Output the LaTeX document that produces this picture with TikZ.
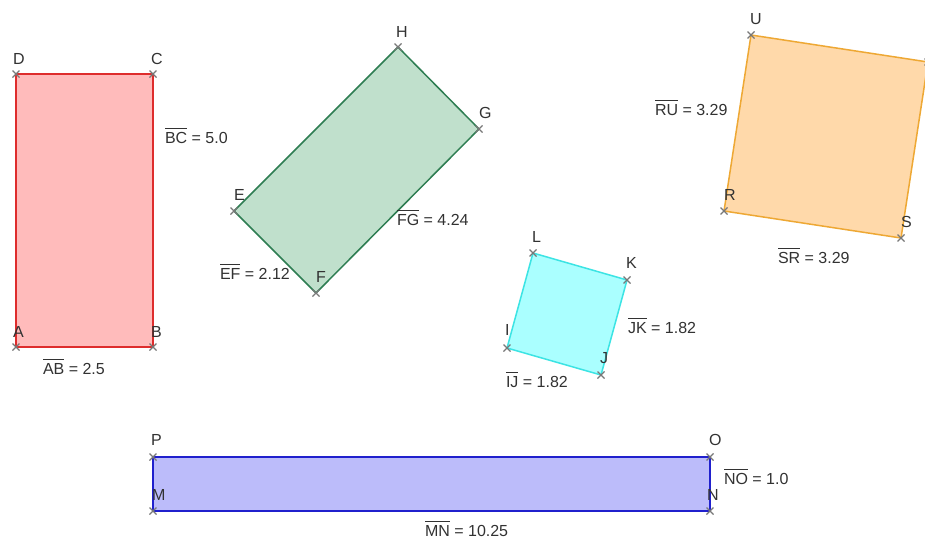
\documentclass[tikz,border=0pt]{standalone}
\usepackage{fontspec}
\setmainfont{Liberation Sans}
\usetikzlibrary{calc}
\definecolor{redfill}{RGB}{255,187,187}
\definecolor{redline}{RGB}{222,45,45}
\definecolor{greenfill}{RGB}{192,224,204}
\definecolor{greenline}{RGB}{46,125,82}
\definecolor{cyanfill}{RGB}{170,255,255}
\definecolor{cyanline}{RGB}{60,228,228}
\definecolor{orangefill}{RGB}{255,217,170}
\definecolor{orangeline}{RGB}{238,168,52}
\definecolor{bluefill}{RGB}{188,188,250}
\definecolor{blueline}{RGB}{32,32,205}
\definecolor{crossgray}{RGB}{120,120,120}
\definecolor{txt}{RGB}{50,50,50}
\newcommand\seglen[1]{\leavevmode\vbox{\hrule height 0.9pt\kern 3pt\hbox{#1}}}
\begin{document}
\begin{tikzpicture}[x=1pt,y=-1pt,
  lbl/.style={anchor=base west,inner sep=0pt,outer sep=0pt,text=txt,font=\fontsize{16}{19}\selectfont},
  poly/.style={line width=1.5pt,line join=round},
  vx/.style={crossgray,line width=1.3pt}]
\useasboundingbox[fill=white] (0,0) rectangle (925,539);
% vertices
\coordinate (A) at (16,347); \coordinate (B) at (153,347);
\coordinate (C) at (153,74); \coordinate (D) at (16,74);
\coordinate (E) at (234,211); \coordinate (F) at (316,293);
\coordinate (G) at (479,129); \coordinate (H) at (398,47);
\coordinate (I) at (507,348); \coordinate (J) at (601,375);
\coordinate (K) at (627,280); \coordinate (L) at (533,253);
\coordinate (R) at (724,211); \coordinate (S) at (901,238);
\coordinate (T) at (928,62); \coordinate (U) at (751,35);
\coordinate (M) at (153,511); \coordinate (N) at (710,511);
\coordinate (O) at (710,457); \coordinate (P) at (153,457);
% polygons
\draw[poly,fill=redfill,draw=redline] (A) -- (B) -- (C) -- (D) -- cycle;
\draw[poly,fill=greenfill,draw=greenline] (E) -- (F) -- (G) -- (H) -- cycle;
\draw[poly,fill=cyanfill,draw=cyanline] (I) -- (J) -- (K) -- (L) -- cycle;
\draw[poly,fill=orangefill,draw=orangeline] (R) -- (S) -- (T) -- (U) -- cycle;
\draw[poly,fill=bluefill,draw=blueline] (M) -- (N) -- (O) -- (P) -- cycle;
% vertex crosses
\foreach \p in {A,B,C,D,E,F,G,H,I,J,K,L,R,S,T,U,M,N,O,P}{
  \draw[vx] ($(\p)+(-3.5,-3.5)$) -- ($(\p)+(3.5,3.5)$);
  \draw[vx] ($(\p)+(-3.5,3.5)$) -- ($(\p)+(3.5,-3.5)$);
}
% point labels
\node[lbl] (lA) at (13,337) {A};
\node[lbl] (lB) at (151,337) {B};
\node[lbl] (lC) at (151,64) {C};
\node[lbl] (lD) at (13,64) {D};
\node[lbl] (lE) at (234,200) {E};
\node[lbl] (lF) at (316,282) {F};
\node[lbl] (lG) at (479,118) {G};
\node[lbl] (lH) at (396,37) {H};
\node[lbl] (lI) at (505,335) {I};
\node[lbl] (lJ) at (600,363) {J};
\node[lbl] (lK) at (626,268) {K};
\node[lbl] (lL) at (532,242) {L};
\node[lbl] (lR) at (724,200) {R};
\node[lbl] (lS) at (901,227) {S};
\node[lbl] (lU) at (750,24) {U};
\node[lbl] (lM) at (152,500) {M};
\node[lbl] (lN) at (707,500) {N};
\node[lbl] (lO) at (709,445) {O};
\node[lbl] (lP) at (151,445) {P};
% length labels
\node[lbl] (mAB) at (43,374) {\seglen{AB} = 2.5};
\node[lbl] (mBC) at (165,143) {\seglen{BC} = 5.0};
\node[lbl] (mEF) at (220,279) {\seglen{EF} = 2.12};
\node[lbl] (mFG) at (397,225) {\seglen{FG} = 4.24};
\node[lbl] (mIJ) at (506,387) {\seglen{IJ} = 1.82};
\node[lbl] (mJK) at (628,333) {\seglen{JK} = 1.82};
\node[lbl] (mRU) at (655,115) {\seglen{RU} = 3.29};
\node[lbl] (mSR) at (778,263) {\seglen{SR} = 3.29};
\node[lbl] (mNO) at (724,484) {\seglen{NO} = 1.0};
\node[lbl] (mMN) at (425,536) {\seglen{MN} = 10.25};
\end{tikzpicture}
\end{document}
